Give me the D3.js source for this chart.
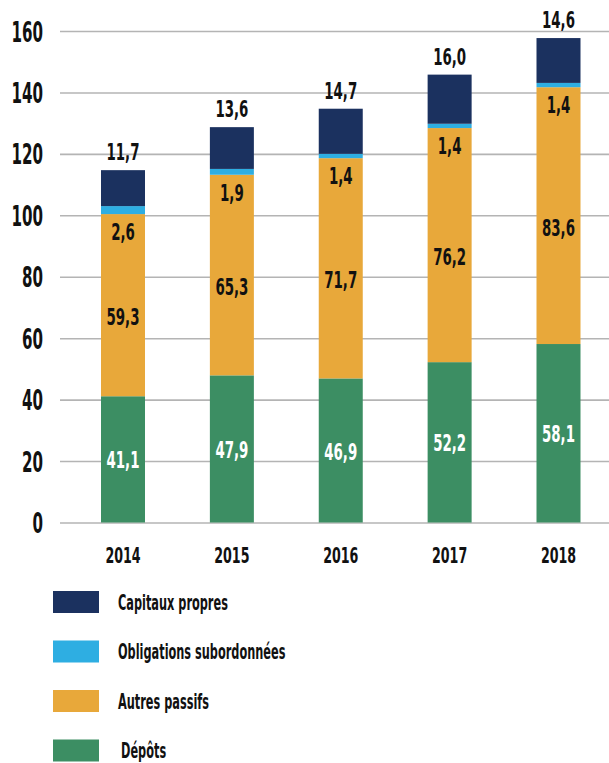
<!DOCTYPE html>
<html>
<head>
<meta charset="utf-8">
<script src="https://cdn.jsdelivr.net/npm/d3@7"></script>
<style>
  html, body { margin: 0; padding: 0; background: #fff; }
  svg { display: block; }
  text { font-family: "DejaVu Sans Condensed", "DejaVu Sans", sans-serif; font-weight: bold; }
</style>
</head>
<body>
<svg id="chart" width="609" height="763"></svg>
<script>
const years = ["2014", "2015", "2016", "2017", "2018"];
const depots = [41.1, 47.9, 46.9, 52.2, 58.1];
const autresPassifs = [59.3, 65.3, 71.7, 76.2, 83.6];
const obligations = [2.6, 1.9, 1.4, 1.4, 1.4];
const capitaux = [11.7, 13.6, 14.7, 16.0, 14.6];
const yTicks = [0, 20, 40, 60, 80, 100, 120, 140, 160];
const seriesNames = ["Dépôts", "Autres passifs", "Obligations subordonnées", "Capitaux propres"];
const legendOrder = ["Capitaux propres", "Obligations subordonnées", "Autres passifs", "Dépôts"];
const colors = {
  "Dépôts": "#3c8e63",
  "Autres passifs": "#e8a83a",
  "Obligations subordonnées": "#2eaee2",
  "Capitaux propres": "#1b315f"
};

const fmt = v => v.toFixed(1).replace(".", ",");

const rows = years.map((yr, i) => ({
  year: yr,
  "Dépôts": depots[i],
  "Autres passifs": autresPassifs[i],
  "Obligations subordonnées": obligations[i],
  "Capitaux propres": capitaux[i]
}));

const svg = d3.select("#chart");
const W = 609;
const left = 60;

const y = d3.scaleLinear().domain([0, 160]).range([522.5, 31]);
const x = d3.scalePoint().domain(years).range([123, 558.5]);
const barW = 44;

// gridlines + y tick labels
const yAxis = d3.axisLeft(y).tickValues(yTicks).tickSize(-(W - left)).tickPadding(0).tickFormat(d3.format("d"));
const gy = svg.append("g").attr("transform", `translate(${left},0)`).call(yAxis);
gy.select(".domain").remove();
gy.selectAll(".tick line").attr("stroke", "#b4b4b4").attr("stroke-width", 1.6);
const tickSX = 0.6;
gy.selectAll(".tick text")
  .attr("fill", "#111")
  .attr("font-size", 28)
  .attr("font-family", null)
  .attr("text-anchor", "end")
  .attr("x", -17 / tickSX)
  .attr("dy", "0.36em")
  .attr("transform", `scale(${tickSX},1)`);

// stacked bars
const stack = d3.stack().keys(seriesNames);
const layers = stack(rows);

const gBars = svg.append("g");
layers.forEach(layer => {
  gBars.selectAll(null)
    .data(layer)
    .enter()
    .append("rect")
    .attr("x", d => x(d.data.year) - barW / 2)
    .attr("width", barW)
    .attr("y", d => y(d[1]))
    .attr("height", d => y(d[0]) - y(d[1]))
    .attr("fill", colors[layer.key]);
});

// helper for condensed text
function label(g, tx, ty, txt, size, sx, fill, anchor) {
  g.append("text")
    .attr("transform", `translate(${tx},${ty}) scale(${sx},1)`)
    .attr("text-anchor", anchor || "middle")
    .attr("dy", "0.36em")
    .attr("font-size", size)
    .attr("fill", fill)
    .text(txt);
}

const gLab = svg.append("g");
const valSX = 0.66;
const valSize = 22.5;
layers[0].forEach(d => {
  label(gLab, x(d.data.year), (y(d[0]) + y(d[1])) / 2 + 1, fmt(d.data["Dépôts"]), valSize, valSX, "#fff");
});
layers[1].forEach(d => {
  label(gLab, x(d.data.year), (y(d[0]) + y(d[1]) + 24) / 2, fmt(d.data["Autres passifs"]), valSize, valSX, "#111");
});
layers[2].forEach(d => {
  label(gLab, x(d.data.year), y(d[0]) + 18, fmt(d.data["Obligations subordonnées"]), valSize, valSX, "#111");
});
layers[3].forEach(d => {
  label(gLab, x(d.data.year), y(d[1]) - 18, fmt(d.data["Capitaux propres"]), valSize, valSX, "#111");
});

// x labels
const gx = svg.append("g");
years.forEach(yr => label(gx, x(yr), 555, yr, 22, 0.64, "#111"));

// legend
const gLeg = svg.append("g");
legendOrder.forEach((name, i) => {
  const ly = 591 + i * 49.5;
  gLeg.append("rect").attr("x", 53).attr("y", ly).attr("width", 46).attr("height", 22).attr("fill", colors[name]);
  label(gLeg, name === "Dépôts" ? 121 : 118, ly + 11, name, 21, 0.6, "#111", "start");
});
</script>
</body>
</html>
